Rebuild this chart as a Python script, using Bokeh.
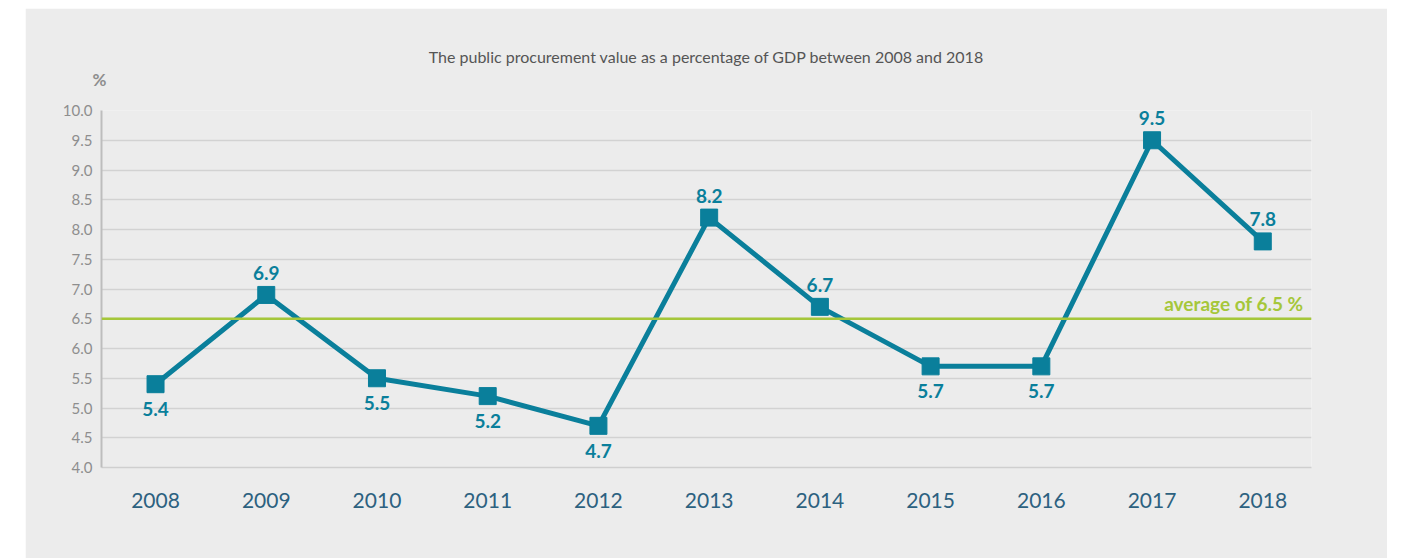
from bokeh.plotting import figure
from bokeh.models import ColumnDataSource, Span, Label, FixedTicker, CustomJSTickFormatter, Spacer, Title
from bokeh.layouts import row, column
from bokeh.core.properties import value
from bokeh.embed import file_html
from bokeh.resources import INLINE

years = [2008, 2009, 2010, 2011, 2012, 2013, 2014, 2015, 2016, 2017, 2018]
values = [5.4, 6.9, 5.5, 5.2, 4.7, 8.2, 6.7, 5.7, 5.7, 9.5, 7.8]
average = 6.5
y_ticks = [4.0, 4.5, 5.0, 5.5, 6.0, 6.5, 7.0, 7.5, 8.0, 8.5, 9.0, 9.5, 10.0]
title_text = "The public procurement value as a percentage of GDP between 2008 and 2018"
avg_text = "average of 6.5 %"
unit_text = "%"

BG = "#ececec"
TEAL = "#0a7f9b"
GREEN = "#a5c73a"
FONT = "Lato"

p = figure(width=1362, height=550, output_backend="svg", toolbar_location=None,
           x_range=(2007.512, 2018.44), y_range=(4.0, 10.0),
           min_border_left=76, min_border_right=76, min_border_top=102, min_border_bottom=91)
p.background_fill_color = BG
p.border_fill_color = BG
p.outline_line_color = None

# titles: main title outermost, "%" nearest to the frame
p.title.text = title_text
p.title.align = "center"
p.title.text_font = FONT
p.title.text_font_style = "normal"
p.title.text_font_size = "16px"
p.title.text_color = "#555555"
p.title.standoff = -41
p.add_layout(Title(text=unit_text, align="left", offset=-9, text_font=FONT, text_font_style="bold",
                   text_font_size="17px", text_color="#8e8e8e", standoff=42), "above")

# grid
p.xgrid.grid_line_color = None
p.ygrid.grid_line_color = "#d2d2d2"
p.ygrid.grid_line_width = 1.5
p.yaxis.ticker = FixedTicker(ticks=y_ticks)
p.xaxis.ticker = FixedTicker(ticks=years)
p.xaxis.formatter = CustomJSTickFormatter(code="return String(tick)")
p.yaxis.formatter = CustomJSTickFormatter(code="return tick.toFixed(1)")

# y axis
p.yaxis.axis_line_color = "#bdbdbd"
p.yaxis.axis_line_width = 2
p.yaxis.major_tick_line_color = None
p.yaxis.minor_tick_line_color = None
p.yaxis.major_tick_out = 0
p.yaxis.major_tick_in = 0
p.yaxis.major_label_standoff = 9
p.yaxis.major_label_text_font = FONT
p.yaxis.major_label_text_font_size = "15px"
p.yaxis.major_label_text_color = "#8e8e8e"

# x axis
p.xaxis.axis_line_color = "#cfcfcf"
p.xaxis.axis_line_width = 1.5
p.xaxis.major_tick_line_color = None
p.xaxis.minor_tick_line_color = None
p.xaxis.major_tick_out = 0
p.xaxis.major_tick_in = 0
p.xaxis.major_label_standoff = 25
p.xaxis.major_label_text_font = FONT
p.xaxis.major_label_text_font_size = "21px"
p.xaxis.major_label_text_color = "#2c6180"

# average line
p.add_layout(Span(location=average, dimension="width", line_color=GREEN, line_width=2.5))
p.add_layout(Label(x=2018.44, y=average, text=avg_text, text_align="right", text_baseline="alphabetic",
                   x_offset=-8, y_offset=15, text_font=FONT, text_font_style="bold",
                   text_font_size="19px", text_color=GREEN))

# series
src = ColumnDataSource(dict(x=years, y=values))
p.line("x", "y", source=src, line_color=TEAL, line_width=5)
p.scatter("x", "y", source=src, marker="square", size=17, fill_color=TEAL, line_color=TEAL)

above = ColumnDataSource(dict(x=[x for x, v in zip(years, values) if v > average],
                              y=[v for v in values if v > average],
                              t=[f"{v:.1f}" for v in values if v > average]))
below = ColumnDataSource(dict(x=[x for x, v in zip(years, values) if v <= average],
                              y=[v for v in values if v <= average],
                              t=[f"{v:.1f}" for v in values if v <= average]))
for s, off in ((above, -22), (below, 25)):
    p.text("x", "y", text="t", source=s, text_align="center", text_baseline="middle",
           y_offset=off, text_font=value(FONT), text_font_style="bold",
           text_font_size="19px", text_color=TEAL)

layout = column(Spacer(width=10, height=8), row(Spacer(width=25, height=550), p))
open("out.html", "w").write(file_html(layout, INLINE))
